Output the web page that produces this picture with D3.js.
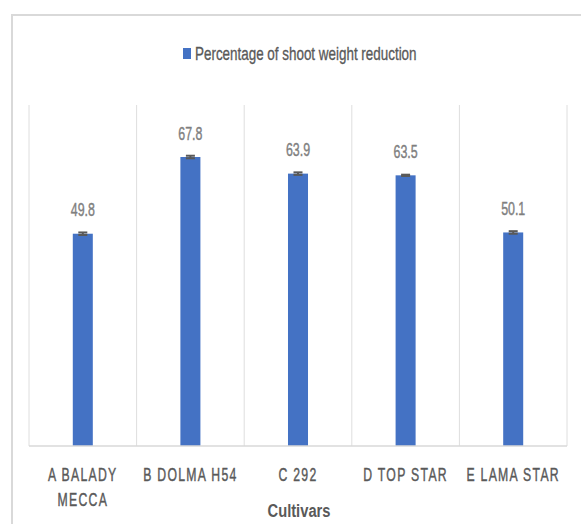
<!DOCTYPE html>
<html>
<head>
<meta charset="utf-8">
<script src="https://cdn.jsdelivr.net/npm/d3@7"></script>
<style>
  html, body { margin: 0; padding: 0; background: #ffffff; }
  svg { display: block; }
</style>
</head>
<body>
<svg id="chart" width="581" height="524"></svg>
<script>
// ---- data ----
const categories = [["A BALADY", "MECCA"], ["B DOLMA H54"], ["C 292"], ["D TOP STAR"], ["E LAMA STAR"]];
const values = [49.8, 67.8, 63.9, 63.5, 50.1];
const errors = [0.3, 0.3, 0.3, 0.15, 0.3];
const seriesName = "Percentage of shoot weight reduction";
const xTitle = "Cultivars";
const yDomain = [0, 80];

// ---- layout ----
const svg = d3.select("#chart");
const plot = { left: 29, right: 567, top: 105, bottom: 446 };
const sx = 0.73; // horizontal squeeze of text (stretched picture)
const font = "'Liberation Sans', Arial, sans-serif";

// outer frame
svg.append("path")
  .attr("d", "M12,530 L12,15 L590,15")
  .attr("fill", "none").attr("stroke", "#d9d9d9").attr("stroke-width", 2);

const keys = categories.map(c => c.join(" "));
const x = d3.scaleBand().domain(keys).range([plot.left, plot.right]).paddingInner(0).paddingOuter(0);
const y = d3.scaleLinear().domain(yDomain).range([plot.bottom, plot.top]);
const barW = x.bandwidth() * 0.186;

// vertical category separators
const seps = keys.map(k => x(k)).concat([plot.right]);
svg.append("g").selectAll("line").data(seps).join("line")
  .attr("x1", d => d).attr("x2", d => d)
  .attr("y1", y(yDomain[1])).attr("y2", y(0))
  .attr("stroke", "#dedede").attr("stroke-width", 1);

// bars
svg.append("g").selectAll("rect").data(values).join("rect")
  .attr("x", (d, i) => x(keys[i]) + x.bandwidth() / 2 - barW / 2)
  .attr("y", d => y(d))
  .attr("width", barW)
  .attr("height", d => y(0) - y(d))
  .attr("fill", "#4472c4");

// baseline
svg.append("line")
  .attr("x1", plot.left).attr("x2", plot.right)
  .attr("y1", y(0)).attr("y2", y(0))
  .attr("stroke", "#d9d9d9").attr("stroke-width", 1.5);

// error bars
const eb = svg.append("g").attr("stroke", "#595959").attr("stroke-width", 2);
values.forEach((v, i) => {
  const cx = x(keys[i]) + x.bandwidth() / 2;
  const hi = y(v + errors[i]), lo = y(v - errors[i]);
  eb.append("line").attr("x1", cx).attr("x2", cx).attr("y1", hi).attr("y2", lo);
  eb.append("line").attr("x1", cx - 4.5).attr("x2", cx + 4.5).attr("y1", hi).attr("y2", hi);
  eb.append("line").attr("x1", cx - 4.5).attr("x2", cx + 4.5).attr("y1", lo).attr("y2", lo);
});

// data labels
svg.append("g").selectAll("text").data(values).join("text")
  .attr("transform", (d, i) => `translate(${x(keys[i]) + x.bandwidth() / 2},${y(d) - 17.5}) scale(${sx},1.1)`)
  .attr("text-anchor", "middle")
  .attr("font-family", font).attr("font-size", 17)
  .attr("fill", "#7f7f7f").attr("stroke", "#7f7f7f").attr("stroke-width", 0.4)
  .text(d => d.toFixed(1));

// category labels
const cl = svg.append("g");
categories.forEach((lines, i) => {
  const cx = x(keys[i]) + x.bandwidth() / 2;
  lines.forEach((ln, j) => {
    cl.append("text")
      .attr("transform", `translate(${cx},${481 + j * 25}) scale(0.72,1.1)`)
      .attr("text-anchor", "middle")
      .attr("font-family", font).attr("font-size", 17)
      .attr("letter-spacing", 1.8)
      .attr("fill", "#595959").attr("stroke", "#595959").attr("stroke-width", 0.4)
      .text(ln);
  });
});

// axis title
svg.append("text")
  .attr("transform", `translate(${(plot.left + plot.right) / 2 + 1},517) scale(0.92,1.1)`)
  .attr("text-anchor", "middle")
  .attr("font-family", font).attr("font-size", 16).attr("font-weight", "bold")
  .attr("fill", "#595959")
  .text(xTitle);

// legend
const lg = svg.append("g");
lg.append("rect").attr("x", 183).attr("y", 48).attr("width", 8).attr("height", 11).attr("fill", "#4472c4");
lg.append("text")
  .attr("transform", `translate(195,60) scale(0.79,1.05)`)
  .attr("font-family", font).attr("font-size", 17)
  .attr("fill", "#595959").attr("stroke", "#595959").attr("stroke-width", 0.3)
  .text(seriesName);
</script>
</body>
</html>
